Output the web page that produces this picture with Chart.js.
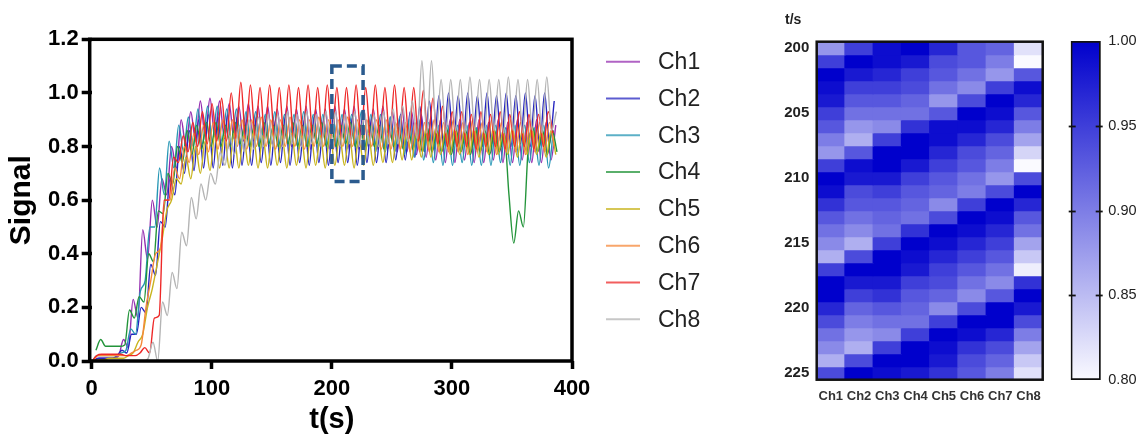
<!DOCTYPE html>
<html><head><meta charset="utf-8">
<script src="https://cdn.jsdelivr.net/npm/chart.js@4.4.1/dist/chart.umd.min.js"></script>
<style>
html,body{margin:0;padding:0;background:#fff;width:1142px;height:434px;overflow:hidden}
canvas{position:absolute;top:0}
#line{left:0}
#heat{left:740px}
#cbar{left:1050px}
</style></head><body>
<canvas id="line" width="740" height="434"></canvas>
<canvas id="heat" width="320" height="434"></canvas>
<canvas id="cbar" width="92" height="434"></canvas>
<script>
// ---------------- data ----------------
const channels = ['Ch1','Ch2','Ch3','Ch4','Ch5','Ch6','Ch7','Ch8'];
const lineColors = ['#962fb0','#2525c0','#2596b4','#23943a','#c8b41e','#f5883a','#ee2828','#b4b4b4'];
const SAMPLE_STEP = 4;                       // seconds between samples
const sampleStart = [2.5,1.2,0.5,3.5,2.5,1.2,0.2,3.0]; // first sample time (s) per channel
const xTickValues = [0,100,200,300,400];
const yTickValues = [0,0.2,0.4,0.6,0.8,1.0,1.2];

const ch1 = [0.00,0.01,0.01,0.01,0.01,0.02,0.08,0.05,0.23,0.16,
 0.49,0.38,0.60,0.50,0.68,0.62,0.80,0.72,0.90,0.80,
 0.93,0.82,0.97,0.84,0.98,0.84,0.97,0.83,0.96,0.83,
 0.95,0.82,0.96,0.82,0.95,0.81,0.95,0.81,0.94,0.80,
 0.95,0.80,0.94,0.80,0.95,0.79,0.94,0.80,0.94,0.79,
 0.95,0.80,0.94,0.79,0.95,0.79,0.94,0.80,0.94,0.79,
 0.95,0.79,0.93,0.78,0.94,0.78,0.93,0.77,0.92,0.76,
 0.91,0.75,0.90,0.74,0.90,0.74,0.90,0.75,0.89,0.74,
 0.90,0.74,0.89,0.75,0.90,0.74,0.89,0.74,0.90,0.75,
 0.89,0.74,0.90,0.74,0.89,0.75,0.88];
const ch2 = [0.00,0.01,0.01,0.01,0.01,0.02,0.04,0.03,0.10,0.10,
 0.20,0.18,0.36,0.32,0.52,0.50,0.68,0.62,0.80,0.70,
 0.86,0.71,0.90,0.72,0.92,0.72,0.91,0.73,0.92,0.72,
 0.91,0.73,0.90,0.73,0.91,0.74,0.90,0.73,0.90,0.74,
 0.91,0.73,0.90,0.74,0.90,0.73,0.91,0.74,0.90,0.73,
 0.91,0.74,0.90,0.74,0.91,0.73,0.90,0.74,0.91,0.74,
 0.90,0.74,0.91,0.75,0.92,0.75,0.93,0.76,0.95,0.78,
 0.97,0.79,0.99,0.80,1.00,0.80,0.99,0.81,1.00,0.80,
 0.99,0.80,1.00,0.81,0.99,0.80,1.00,0.80,0.99,0.81,
 1.00,0.80,0.99,0.80,1.00,0.81,0.97];
const ch3 = [0.00,0.02,0.02,0.02,0.02,0.02,0.03,0.04,0.12,0.10,
 0.26,0.30,0.50,0.50,0.72,0.62,0.82,0.72,0.88,0.78,
 0.91,0.80,0.94,0.81,0.95,0.82,0.95,0.82,0.94,0.81,
 0.94,0.80,0.93,0.80,0.93,0.79,0.92,0.80,0.93,0.79,
 0.92,0.80,0.92,0.79,0.93,0.80,0.92,0.79,0.92,0.79,
 0.93,0.80,0.92,0.79,0.92,0.79,0.93,0.79,0.92,0.78,
 0.92,0.78,0.91,0.78,0.91,0.77,0.90,0.76,0.90,0.75,
 0.89,0.74,0.88,0.73,0.88,0.73,0.88,0.74,0.88,0.73,
 0.87,0.73,0.88,0.73,0.88,0.74,0.87,0.73,0.88,0.73,
 0.88,0.74,0.87,0.73,0.88,0.72,0.86];
const ch4 = [0.04,0.08,0.055,0.055,0.055,0.055,0.06,0.19,0.16,0.24,
 0.22,0.40,0.37,0.56,0.55,0.70,0.66,0.80,0.74,0.86,
 0.77,0.88,0.79,0.89,0.80,0.89,0.80,0.88,0.80,0.89,
 0.81,0.88,0.80,0.88,0.80,0.89,0.81,0.88,0.80,0.88,
 0.81,0.89,0.80,0.88,0.80,0.88,0.81,0.89,0.80,0.88,
 0.80,0.88,0.81,0.89,0.80,0.88,0.80,0.88,0.80,0.88,
 0.79,0.88,0.80,0.87,0.79,0.87,0.79,0.87,0.78,0.87,
 0.78,0.86,0.78,0.87,0.77,0.86,0.78,0.86,0.77,0.87,
 0.78,0.86,0.77,0.86,0.78,0.85,0.62,0.44,0.56,0.50,
 0.79,0.87,0.78,0.86,0.77,0.86,0.78];
const ch5 = [0.00,0.005,0.005,0.01,0.01,0.01,0.01,0.02,0.03,0.07,
 0.10,0.20,0.27,0.36,0.45,0.56,0.60,0.68,0.66,0.76,
 0.68,0.80,0.70,0.82,0.71,0.84,0.72,0.84,0.72,0.85,
 0.72,0.84,0.73,0.85,0.72,0.84,0.72,0.85,0.73,0.84,
 0.72,0.85,0.73,0.84,0.72,0.85,0.73,0.84,0.72,0.85,
 0.73,0.84,0.73,0.85,0.72,0.84,0.73,0.85,0.73,0.85,
 0.74,0.85,0.74,0.86,0.75,0.86,0.75,0.86,0.76,0.87,
 0.76,0.87,0.77,0.86,0.77,0.87,0.77,0.86,0.77,0.87,
 0.76,0.86,0.77,0.87,0.77,0.86,0.77,0.87,0.76,0.86,
 0.77,0.87,0.77,0.86,0.76,0.86,0.77];
const ch6 = [0.00,0.02,0.02,0.02,0.02,0.02,0.02,0.02,0.03,0.04,
 0.06,0.20,0.30,0.40,0.42,0.60,0.60,0.72,0.68,0.80,
 0.74,0.85,0.77,0.88,0.78,0.89,0.79,0.90,0.79,0.90,
 0.80,0.90,0.79,0.90,0.80,0.91,0.80,0.90,0.79,0.90,
 0.80,0.91,0.80,0.90,0.79,0.90,0.80,0.91,0.80,0.90,
 0.79,0.90,0.80,0.91,0.80,0.90,0.79,0.90,0.80,0.90,
 0.79,0.90,0.79,0.89,0.79,0.89,0.78,0.89,0.78,0.89,
 0.78,0.90,0.78,0.89,0.78,0.90,0.78,0.89,0.77,0.90,
 0.78,0.89,0.78,0.90,0.77,0.89,0.78,0.90,0.78,0.89,
 0.77,0.90,0.78,0.89,0.78,0.89,0.80];
const ch7 = [0.00,0.02,0.025,0.025,0.025,0.025,0.025,0.02,0.02,0.02,
 0.03,0.05,0.03,0.16,0.17,0.60,0.60,0.76,0.74,0.84,
 0.78,0.89,0.80,0.93,0.81,0.96,0.82,0.98,0.82,1.00,
 0.83,1.04,0.83,1.03,0.84,1.02,0.83,1.03,0.84,1.02,
 0.83,1.03,0.83,1.02,0.84,1.03,0.83,1.02,0.83,1.03,
 0.84,1.02,0.83,1.02,0.83,1.03,0.84,1.02,0.83,1.03,
 0.83,1.02,0.83,1.03,0.83,1.02,0.83,1.02,0.82,1.01,
 0.82,0.98,0.81,0.95,0.80,0.93,0.80,0.93,0.80,0.92,
 0.79,0.93,0.80,0.92,0.80,0.93,0.79,0.92,0.80,0.93,
 0.80,0.92,0.79,0.92,0.80,0.93,0.85];
const ch8 = [0.00,0.00,0.00,0.00,0.00,0.00,0.00,0.00,0.00,0.00,
 0.00,0.01,0.07,0.00,0.22,0.17,0.33,0.27,0.48,0.43,
 0.61,0.53,0.66,0.60,0.70,0.66,0.78,0.73,0.84,0.77,
 0.88,0.78,0.90,0.79,0.91,0.80,0.92,0.80,0.92,0.80,
 0.93,0.81,0.92,0.80,0.93,0.81,0.92,0.80,0.93,0.81,
 0.93,0.80,0.92,0.81,0.93,0.80,0.93,0.81,0.92,0.80,
 0.93,0.81,0.94,0.81,0.95,0.82,0.97,0.83,1.12,0.85,
 1.12,0.85,1.05,0.85,1.05,0.86,1.05,0.85,1.06,0.86,
 1.05,0.85,1.05,0.86,1.05,0.85,1.06,0.86,1.05,0.85,
 1.05,0.86,1.05,0.85,1.06,0.86,0.93];
const signals = [ch1,ch2,ch3,ch4,ch5,ch6,ch7,ch8];
const highlightBox = [200, 226, 0.67, 1.10]; // t from, t to, signal from, signal to

const heatTimes = [200,201,202,203,204,205,206,207,208,209,210,211,212,213,214,215,216,217,218,219,220,221,222,223,224,225];
const heatValues = [
 [0.88,0.95,0.99,1.00,0.97,0.93,0.92,0.82],
 [0.95,1.00,0.99,0.98,0.94,0.93,0.90,0.80],
 [1.00,0.98,0.97,0.95,0.93,0.91,0.88,0.93],
 [0.99,0.95,0.95,0.94,0.91,0.89,0.95,0.99],
 [0.98,0.93,0.93,0.92,0.88,0.94,1.00,0.97],
 [0.95,0.91,0.91,0.91,0.93,1.00,0.99,0.93],
 [0.93,0.88,0.89,0.96,0.99,0.99,0.97,0.90],
 [0.90,0.86,0.95,1.00,0.99,0.97,0.94,0.87],
 [0.88,0.93,1.00,1.00,0.97,0.94,0.92,0.83],
 [0.95,0.99,1.00,0.98,0.95,0.93,0.90,0.80],
 [1.00,0.98,0.98,0.95,0.93,0.91,0.88,0.94],
 [0.99,0.94,0.95,0.93,0.92,0.90,0.94,1.00],
 [0.96,0.93,0.93,0.92,0.89,0.95,1.00,0.97],
 [0.93,0.91,0.92,0.91,0.94,1.00,0.99,0.93],
 [0.91,0.89,0.91,0.96,1.00,0.99,0.97,0.91],
 [0.89,0.86,0.95,1.00,0.99,0.97,0.95,0.87],
 [0.86,0.94,1.00,0.99,0.97,0.95,0.93,0.84],
 [0.95,1.00,1.00,0.98,0.95,0.93,0.91,0.81],
 [1.00,0.98,0.98,0.95,0.94,0.91,0.89,0.96],
 [1.00,0.95,0.96,0.93,0.92,0.89,0.93,1.00],
 [0.97,0.92,0.93,0.92,0.89,0.94,1.00,0.98],
 [0.94,0.90,0.91,0.91,0.95,1.00,1.00,0.94],
 [0.91,0.88,0.89,0.95,1.00,0.99,0.97,0.90],
 [0.89,0.86,0.95,1.00,0.99,0.96,0.94,0.87],
 [0.86,0.94,1.00,1.00,0.98,0.94,0.92,0.84],
 [0.94,1.00,0.99,0.98,0.96,0.93,0.90,0.82]
];
const heatTicks = [200,205,210,215,220,225];
const colorTicks = [0.80,0.85,0.90,0.95,1.00];
const colorMin = 0.80, colorMax = 1.00;
const colorLow = [250,250,255], colorHigh = [0,0,204];

// ---------------- helpers ----------------
Chart.defaults.font.family = '"Liberation Sans", Arial, Helvetica, sans-serif';
function rgb(c){ return 'rgb(' + c.map(Math.round).join(',') + ')'; }
function colorFor(v){
  const f = Math.max(0, Math.min(1, (v - colorMin) / (colorMax - colorMin)));
  return rgb(colorLow.map((lo, j) => lo + (colorHigh[j] - lo) * f));
}

// ---------------- line chart ----------------
const lineDecor = {
  id: 'lineDecor',
  afterDraw(chart){
    const {ctx, chartArea: a, scales: {x, y}} = chart;
    ctx.save();
    // frame
    ctx.strokeStyle = '#000'; ctx.lineWidth = 3.5;
    ctx.strokeRect(a.left - 2, a.top, a.right - a.left + 2, a.bottom - a.top);
    // highlighted window
    ctx.strokeStyle = '#2b5b8e'; ctx.lineWidth = 3.5; ctx.setLineDash([10, 5]);
    const x0 = x.getPixelForValue(highlightBox[0]), x1 = x.getPixelForValue(highlightBox[1]);
    const y0 = y.getPixelForValue(highlightBox[2]), y1 = y.getPixelForValue(highlightBox[3]);
    ctx.strokeRect(x0, y1, x1 - x0, y0 - y1);
    ctx.setLineDash([]);
    // legend
    ctx.font = '23px "Liberation Sans", Arial, sans-serif';
    ctx.textBaseline = 'middle'; ctx.textAlign = 'left';
    chart.data.datasets.forEach((ds, i) => {
      const yy = 61.7 + i * 36.8;
      ctx.globalAlpha = 0.75;
      ctx.strokeStyle = ds.borderColor; ctx.lineWidth = 2;
      ctx.beginPath(); ctx.moveTo(606, yy); ctx.lineTo(640, yy); ctx.stroke();
      ctx.globalAlpha = 1;
      ctx.fillStyle = '#222';
      ctx.fillText(ds.label, 658, yy + 1);
    });
    ctx.restore();
  }
};

new Chart(document.getElementById('line'), {
  type: 'line',
  data: {
    datasets: channels.map((name, i) => ({
      label: name,
      data: signals[i].map((v, k) => ({x: sampleStart[i] + SAMPLE_STEP * k, y: v})),
      borderColor: lineColors[i],
      backgroundColor: lineColors[i],
      borderWidth: 1.4,
      pointRadius: 0,
      cubicInterpolationMode: 'monotone',
      fill: false,
      order: 7 - i
    }))
  },
  options: {
    responsive: false, animation: false, devicePixelRatio: 1,
    layout: {padding: {left: 0, top: 39.3, right: 168, bottom: 0}},
    plugins: {legend: {display: false}, tooltip: {enabled: false}},
    scales: {
      x: {
        type: 'linear', min: 0, max: 400,
        afterBuildTicks: s => { s.ticks = xTickValues.map(v => ({value: v})); },
        ticks: {font: {size: 22, weight: 'bold'}, color: '#000', padding: 7, maxRotation: 0},
        grid: {drawOnChartArea: false, drawTicks: true, tickLength: 8, tickWidth: 3.5, tickColor: '#000'},
        border: {display: false},
        title: {display: true, text: 't(s)', color: '#000', font: {size: 29, weight: 'bold', lineHeight: 1}, padding: {top: 0, bottom: 0}},
        afterFit: s => { s.height = 73; }
      },
      y: {
        type: 'linear', min: 0, max: 1.2,
        afterBuildTicks: s => { s.ticks = yTickValues.map(v => ({value: v})); },
        ticks: {font: {size: 22, weight: 'bold'}, color: '#000', padding: 3, callback: v => Number(v).toFixed(1)},
        grid: {drawOnChartArea: false, drawTicks: true, tickLength: 10, tickWidth: 3.5, tickColor: '#000'},
        border: {display: false},
        title: {display: true, text: 'Signal', color: '#000', font: {size: 30, weight: 'bold', lineHeight: 1}, padding: {top: 7, bottom: 0}},
        afterFit: s => { s.width = 91.7; }
      }
    }
  },
  plugins: [lineDecor]
});

// ---------------- heatmap ----------------
const heatDecor = {
  id: 'heatDecor',
  afterDraw(chart){
    const {ctx, chartArea: a} = chart;
    ctx.save();
    ctx.strokeStyle = '#111'; ctx.lineWidth = 2.5;
    ctx.strokeRect(a.left, a.top, a.right - a.left, a.bottom - a.top);
    ctx.fillStyle = '#222';
    ctx.font = 'bold 14px "Liberation Sans", Arial, sans-serif';
    ctx.textBaseline = 'middle'; ctx.textAlign = 'left';
    ctx.fillText('t/s', 45, 20);
    ctx.restore();
  }
};

new Chart(document.getElementById('heat'), {
  type: 'bar',
  data: {
    labels: channels,
    datasets: heatTimes.map((t, r) => ({
      label: String(t),
      data: channels.map(() => [t - 0.5, t + 0.5]),
      backgroundColor: heatValues[r].map(colorFor),
      borderWidth: 0,
      inflateAmount: 0.6,
      grouped: false,
      barPercentage: 1,
      categoryPercentage: 1
    }))
  },
  options: {
    responsive: false, animation: false, devicePixelRatio: 1,
    layout: {padding: {left: 0, top: 41.7, right: 17.3, bottom: 0}},
    plugins: {legend: {display: false}, tooltip: {enabled: false}},
    scales: {
      x: {
        type: 'category',
        ticks: {font: {size: 13, weight: 'bold'}, color: '#333', padding: 9, maxRotation: 0, autoSkip: false},
        grid: {display: false, drawTicks: false},
        border: {display: false},
        afterFit: s => { s.height = 54.3; }
      },
      y: {
        type: 'linear', reverse: true, min: 199.5, max: 225.5,
        afterBuildTicks: s => { s.ticks = heatTicks.map(v => ({value: v})); },
        ticks: {font: {size: 15, weight: 'bold'}, color: '#222', padding: 7.4},
        grid: {display: false, drawTicks: false},
        border: {display: false},
        afterFit: s => { s.width = 76.7; }
      }
    }
  },
  plugins: [heatDecor]
});

// ---------------- colour bar ----------------
const cbarDecor = {
  id: 'cbarDecor',
  afterDraw(chart){
    const {ctx, chartArea: a, scales: {y}} = chart;
    ctx.save();
    ctx.strokeStyle = '#111'; ctx.lineWidth = 1.8;
    colorTicks.slice(1, -1).forEach(v => {
      const py = Math.round(y.getPixelForValue(v)) + 0.5;
      ctx.beginPath(); ctx.moveTo(a.left - 2, py); ctx.lineTo(a.left + 5, py); ctx.stroke();
      ctx.beginPath(); ctx.moveTo(a.right - 5, py); ctx.lineTo(a.right + 2, py); ctx.stroke();
    });
    ctx.restore();
  }
};

new Chart(document.getElementById('cbar'), {
  type: 'bar',
  data: {
    labels: [''],
    datasets: [{
      data: [[colorMin, colorMax]],
      backgroundColor: (c) => {
        const ch = c.chart;
        if (!ch.chartArea) return rgb(colorHigh);
        const ys = ch.scales.y;
        const g = ch.ctx.createLinearGradient(0, ys.getPixelForValue(colorMin), 0, ys.getPixelForValue(colorMax));
        g.addColorStop(0, rgb(colorLow));
        g.addColorStop(1, rgb(colorHigh));
        return g;
      },
      borderColor: '#111', borderWidth: 2, borderSkipped: false,
      barPercentage: 1, categoryPercentage: 1
    }]
  },
  options: {
    responsive: false, animation: false, devicePixelRatio: 1,
    layout: {padding: {left: 20.7, top: 41, right: 0, bottom: 54}},
    plugins: {legend: {display: false}, tooltip: {enabled: false}},
    scales: {
      x: {display: false},
      y: {
        type: 'linear', position: 'right', min: colorMin, max: colorMax,
        afterBuildTicks: s => { s.ticks = colorTicks.map(v => ({value: v})); },
        ticks: {font: {size: 14.5}, color: '#222', padding: 7.6, callback: v => Number(v).toFixed(2)},
        grid: {display: false, drawTicks: false},
        border: {display: false},
        afterFit: s => { s.width = 41.3; }
      }
    }
  },
  plugins: [cbarDecor]
});
</script>
</body></html>
